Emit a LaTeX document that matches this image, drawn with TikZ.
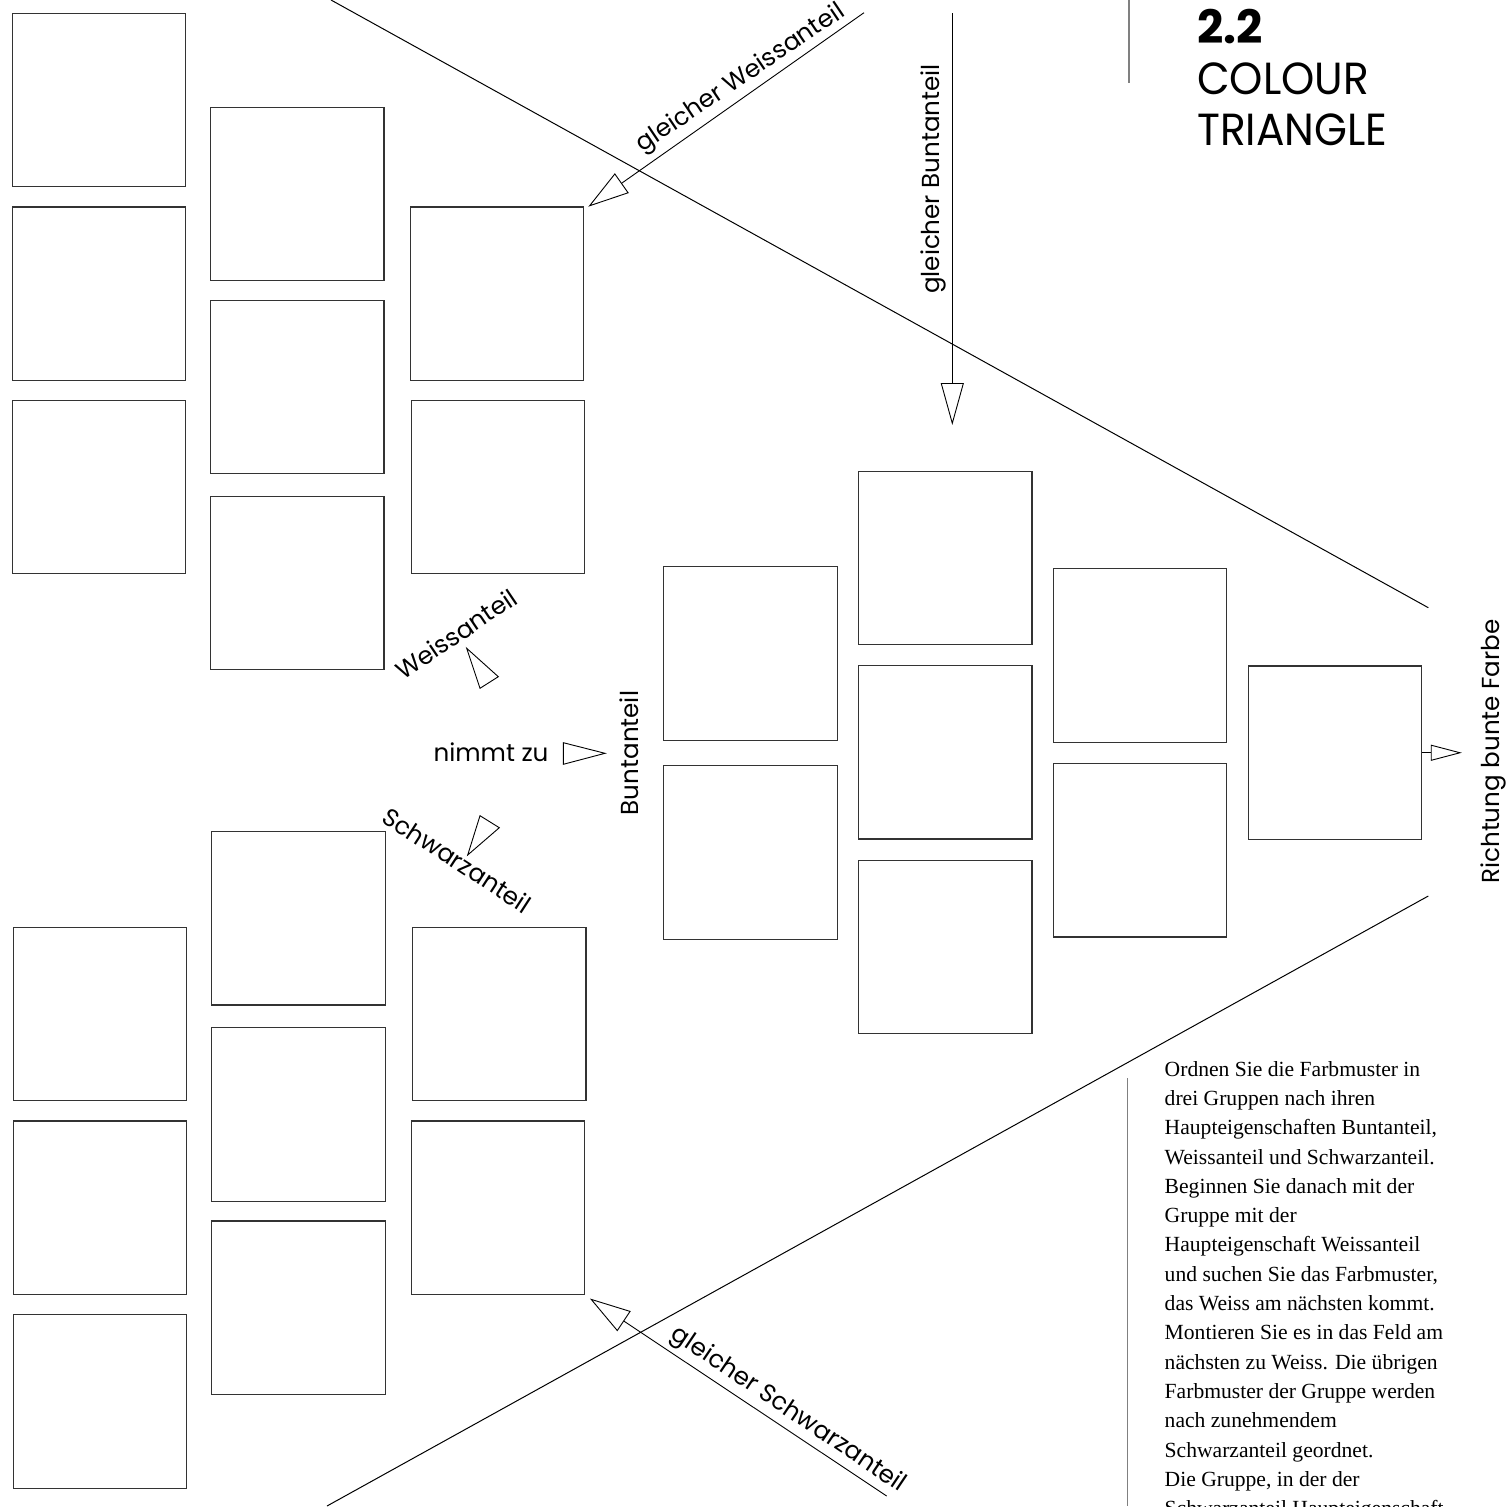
\documentclass[tikz,border=0pt]{standalone}
\usepackage{fontspec}
\setmainfont{Liberation Serif}
\newfontfamily\geo{Poppins}
\newfontfamily\geotitle[FakeStretch=0.94]{Poppins}
\usetikzlibrary{arrows.meta}
\begin{document}
\begin{tikzpicture}[x=1pt,y=-1pt,
  sq/.style={draw=black!80,line width=1.1pt,minimum width=173.5pt,minimum height=173.5pt,inner sep=0pt,outer sep=0pt,anchor=north west},
  lbl/.style={font=\geo\fontsize{24.6}{28}\selectfont,inner sep=0pt},
  ttl/.style={font=\geotitle\fontsize{45}{50}\selectfont,inner sep=0pt,anchor=base west},
  body/.style={font=\fontsize{21.6}{29.33}\selectfont,inner sep=0pt,anchor=base west},
  thinline/.style={line width=1pt},
  tipline/.style={line width=0.9pt},
  greyline/.style={draw=black!50,line width=1.5pt}]
\useasboundingbox (0,0) rectangle (1511,1506);
\clip (0,0) rectangle (1511,1506);
\fill[white] (0,0) rectangle (1511,1506);

% upper-left group
\node[sq] (ul1) at (12.2,13.4) {};
\node[sq] (ul2) at (12.2,207) {};
\node[sq] (ul3) at (12.2,400.3) {};
\node[sq] (um1) at (210.5,107.2) {};
\node[sq] (um2) at (210.5,300.4) {};
\node[sq] (um3) at (210.5,496.4) {};
\node[sq] (ur1) at (410.3,207) {};
\node[sq] (ur2) at (411.4,400.3) {};

% lower-left group
\node[sq] (ll1) at (13.4,927.4) {};
\node[sq] (ll2) at (13.4,1121) {};
\node[sq] (ll3) at (13.4,1314.6) {};
\node[sq] (lm1) at (211.6,831.5) {};
\node[sq] (lm2) at (211.6,1027.8) {};
\node[sq] (lm3) at (211.6,1221) {};
\node[sq] (lr1) at (412.5,927.4) {};
\node[sq] (lr2) at (411.4,1121) {};

% centre group
\node[sq] (ca1) at (663.7,566.7) {};
\node[sq] (ca2) at (663.7,765.8) {};
\node[sq] (cb1) at (858.5,471.1) {};
\node[sq] (cb2) at (858.5,665.5) {};
\node[sq] (cb3) at (858.5,860.3) {};
\node[sq] (cc1) at (1053.3,568.7) {};
\node[sq] (cc2) at (1053.3,763.5) {};
\node[sq] (rb) at (1248.3,666) {};

% long diagonal lines
\coordinate (t0) at (331,0);
\coordinate (t1) at (1428.3,607.7);
\coordinate (b0) at (1428.3,896);
\coordinate (b1) at (327,1506);
\draw[thinline] (t0) -- (t1);
\draw[thinline] (b0) -- (b1);

% arrows
\coordinate (wtail) at (864,12.7);
\coordinate (stail) at (886.7,1496);
\coordinate (btop) at (952.3,13.3);
\coordinate (btip) at (952.3,425);
\draw[tipline,-{Triangle[open,length=41pt,width=24pt]}] (wtail) -- ([shift={(4.5,-0.3)}]ur1.north east);
\draw[tipline,-{Triangle[open,length=41pt,width=24pt]}] (stail) -- ([shift={(5,4)}]lr2.south east);
\draw[tipline,-{Triangle[open,length=42pt,width=23pt]}] (btop) -- (btip);
\draw[tipline,-{Triangle[open,length=31pt,width=16pt]}] (rb.east) -- ++(40,0);

% small indicator triangles
\draw[tipline] (466.7,648.3) -- (498.3,676.7) -- (480,688.3) -- cycle;
\draw[tipline] (563.3,742.7) -- (605,753.3) -- (563.3,764.3) -- cycle;
\draw[tipline] (480,815.7) -- (499.3,827.7) -- (467.7,855) -- cycle;

% labels
\node[lbl,rotate=34] (tgw) at (741,79) {gleicher Weissanteil};
\node[lbl,rotate=90,anchor=base] (tgb) at (939.5,179) {gleicher Buntanteil};
\node[lbl,rotate=-34] (tgs) at (788,1410) {gleicher Schwarzanteil};
\node[lbl,rotate=34] (tw) at (456,634) {Weissanteil};
\node[lbl,rotate=-33] (ts) at (457,860) {Schwarzanteil};
\node[lbl,anchor=base] (tn) at (491,761.7) {nimmt zu};
\node[lbl,rotate=90,anchor=base] (tb) at (638.3,753) {Buntanteil};
\node[lbl,rotate=90,anchor=base] (tr) at (1499.5,751.5) {Richtung bunte Farbe};

% title
\coordinate (v1a) at (1129,0);
\coordinate (v1b) at (1129,83);
\draw[greyline] (v1a) -- (v1b);
\node[ttl,font=\geo\bfseries\fontsize{46}{50}\selectfont] (t22) at (1197,43.3) {2.2};
\node[ttl] (tcol) at (1197,95) {COLOUR};
\node[ttl] (ttri) at (1197,146) {TRIANGLE};

% body text
\coordinate (v2a) at (1127.7,1078);
\coordinate (v2b) at (1127.7,1506);
\draw[greyline] (v2a) -- (v2b);
\foreach \t [count=\i] in {
  {Ordnen Sie die Farbmuster in},
  {drei Gruppen nach ihren},
  {Haupteigenschaften Buntanteil,},
  {Weissanteil und Schwarzanteil.},
  {Beginnen Sie danach mit der},
  {Gruppe mit der},
  {Haupteigenschaft Weissanteil},
  {und suchen Sie das Farbmuster,},
  {das Weiss am nächsten kommt.},
  {Montieren Sie es in das Feld am},
  {nächsten zu Weiss. Die übrigen},
  {Farbmuster der Gruppe werden},
  {nach zunehmendem},
  {Schwarzanteil geordnet.},
  {Die Gruppe, in der der},
  {Schwarzanteil Haupteigenschaft}}
  \node[body] (line\i) at (1164.5,{1076+(\i-1)*29.33}) {\t};
\end{tikzpicture}
\end{document}
